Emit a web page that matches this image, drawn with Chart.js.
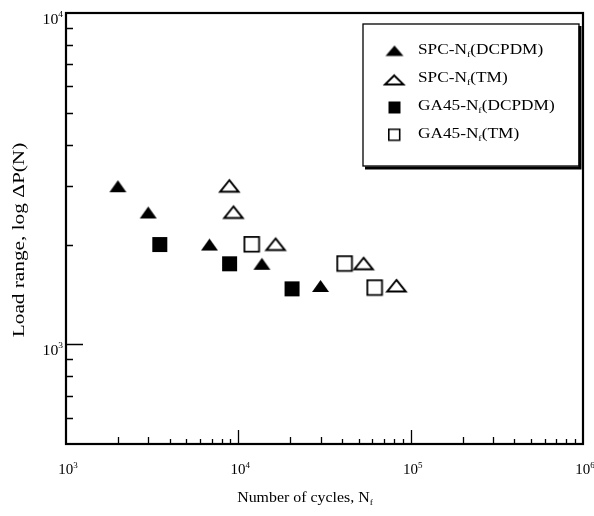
<!DOCTYPE html>
<html><head><meta charset="utf-8">
<script src="https://cdn.jsdelivr.net/npm/chart.js@4"></script>
<style>html,body{margin:0;padding:0;background:#fff}</style>
</head><body>
<canvas id="c" width="594" height="516"></canvas>
<script>
// ---- data ----
const seriesLabels = ['SPC-N_{f}(DCPDM)', 'SPC-N_{f}(TM)', 'GA45-N_{f}(DCPDM)', 'GA45-N_{f}(TM)'];
const spcDcpdmCycles = [2000, 3000, 6800, 13700, 30000];
const spcDcpdmLoad   = [3000, 2500, 2000, 1750, 1500];
const spcTmCycles    = [8900, 9400, 16500, 53500, 83000];
const spcTmLoad      = [3000, 2500, 2000, 1750, 1500];
const ga45DcpdmCycles = [3500, 8900, 20500];
const ga45DcpdmLoad   = [2000, 1750, 1470];
const ga45TmCycles    = [12000, 41500, 62000];
const ga45TmLoad      = [2000, 1750, 1480];
const xTickValues = [1e3, 1e4, 1e5, 1e6];
const xTickLabels = ['10^{3}', '10^{4}', '10^{5}', '10^{6}'];
const yTickValues = [1e3, 1e4];
const yTickLabels = ['10^{3}', '10^{4}'];
const xTitle = 'Number of cycles, N_{f}';
const yTitle = 'Load range, log \u0394P(N)';

const FONT = '"Liberation Serif", "Times New Roman", serif';

function marker(shape, filled, w, h, lw) {
  const pad = 2;
  const c = document.createElement('canvas');
  c.width = Math.ceil(w + pad * 2); c.height = Math.ceil(h + pad * 2);
  const g = c.getContext('2d');
  g.translate(pad, pad);
  g.beginPath();
  const i = filled ? 0 : lw / 2;
  if (shape === 'tri') {
    g.moveTo(w / 2, i); g.lineTo(w - i, h - i); g.lineTo(i, h - i); g.closePath();
  } else {
    g.rect(i, i, w - 2 * i, h - 2 * i);
  }
  if (filled) { g.fillStyle = '#000'; g.fill(); }
  else { g.fillStyle = '#fff'; g.fill(); g.lineWidth = lw; g.strokeStyle = '#000'; g.lineJoin = 'miter'; g.stroke(); }
  return c;
}
const plotMarkers = [marker('tri', true, 17, 12), marker('tri', false, 20.5, 13.5, 1.9),
                     marker('sq', true, 15, 15), marker('sq', false, 16.5, 16.5, 1.8)];
const legendMarkers = [marker('tri', true, 18, 10.5), marker('tri', false, 20.5, 11, 1.9),
                       marker('sq', true, 12, 12), marker('sq', false, 12.5, 12.5, 1.6)];

function parseRich(str) {
  const parts = []; const re = /_\{([^}]*)\}|\^\{([^}]*)\}/g; let last = 0, m;
  while ((m = re.exec(str))) {
    if (m.index > last) parts.push({ t: str.slice(last, m.index), k: 'n' });
    parts.push(m[1] !== undefined ? { t: m[1], k: 'sub' } : { t: m[2], k: 'sup' });
    last = re.lastIndex;
  }
  if (last < str.length) parts.push({ t: str.slice(last), k: 'n' });
  return parts;
}
function drawRich(ctx, str, x, y, size, align, stretch, rot) {
  const parts = parseRich(str);
  const fontFor = k => (k === 'n' ? size : Math.round(size * 0.62)) + 'px ' + FONT;
  let w = 0;
  parts.forEach(p => { ctx.font = fontFor(p.k); p.w = ctx.measureText(p.t).width; w += p.w; });
  ctx.save();
  ctx.translate(x, y);
  if (rot) ctx.rotate(rot);
  ctx.scale(stretch || 1, 1);
  let cx = align === 'center' ? -w / 2 : align === 'right' ? -w : 0;
  ctx.fillStyle = '#000'; ctx.textBaseline = 'alphabetic'; ctx.textAlign = 'left';
  parts.forEach(p => {
    ctx.font = fontFor(p.k);
    const dy = p.k === 'sub' ? size * 0.18 : p.k === 'sup' ? -size * 0.42 : 0;
    ctx.fillText(p.t, cx, dy);
    cx += p.w;
  });
  ctx.restore();
}

const framePlugin = {
  id: 'frame',
  beforeDatasetsDraw(chart) {
    const { ctx, chartArea: a, scales: { x, y } } = chart;
    ctx.save();
    ctx.strokeStyle = '#000';
    ctx.lineWidth = 1.3;
    ctx.beginPath();
    // x ticks (inward)
    for (let e = 3; e < 6; e++) {
      for (let k = 1; k <= 9; k++) {
        const v = k * Math.pow(10, e);
        const px = Math.round(x.getPixelForValue(v)) + 0.5;
        const len = k === 1 ? 14 : (k <= 3 ? 7 : 5);
        if (px <= a.left + 1) continue;
        ctx.moveTo(px, a.bottom); ctx.lineTo(px, a.bottom - len);
      }
    }
    // y ticks (inward)
    for (let e = 2; e < 4; e++) {
      for (let k = 1; k <= 9; k++) {
        const v = k * Math.pow(10, e);
        if (v <= 500 || v >= 1e4) continue;
        const py = Math.round(y.getPixelForValue(v)) + 0.5;
        const len = k === 1 ? 17 : 7;
        ctx.moveTo(a.left, py); ctx.lineTo(a.left + len, py);
      }
    }
    ctx.stroke();
    ctx.lineWidth = 2.2;
    ctx.strokeRect(a.left, a.top, a.right - a.left, a.bottom - a.top);
    ctx.restore();
  },
  afterDraw(chart) {
    const { ctx, chartArea: a, scales: { x, y } } = chart;
    // tick labels
    xTickValues.forEach((v, i) => drawRich(ctx, xTickLabels[i], x.getPixelForValue(v) + 2, 474, 15, 'center', 1));
    yTickValues.forEach((v, i) => drawRich(ctx, yTickLabels[i], 63, y.getPixelForValue(v) + 10.5, 15, 'right', 1.05));
    // axis titles
    drawRich(ctx, xTitle, 305, 502, 15, 'center', 1.06);
    drawRich(ctx, yTitle, 24, 240, 16, 'center', 1.33, -Math.PI / 2);
    // legend box
    const L = 363, T = 24, R = 579, B = 166;
    ctx.save();
    ctx.fillStyle = '#fff';
    ctx.fillRect(L, T, R - L, B - T);
    ctx.strokeStyle = '#000';
    ctx.lineWidth = 1.3;
    ctx.strokeRect(L, T, R - L, B - T);
    ctx.lineWidth = 3;
    ctx.beginPath();
    ctx.moveTo(R + 1, T + 2); ctx.lineTo(R + 1, B + 2); ctx.lineTo(L + 2, B + 2);
    ctx.stroke();
    ctx.restore();
    const rows = [51, 80, 107.5, 135];
    const textBase = [54, 82, 110, 138];
    chart.data.datasets.forEach((ds, i) => {
      const m = legendMarkers[i];
      ctx.drawImage(m, 394.5 - m.width / 2, rows[i] - m.height / 2);
      drawRich(ctx, ds.label, 418, textBase[i], 15, 'left', 1.15);
    });
  }
};

const mk = (xs, ys) => xs.map((v, i) => ({ x: v, y: ys[i] }));
new Chart(document.getElementById('c'), {
  type: 'scatter',
  data: {
    datasets: [
      { label: seriesLabels[0], data: mk(spcDcpdmCycles, spcDcpdmLoad), pointStyle: plotMarkers[0] },
      { label: seriesLabels[1], data: mk(spcTmCycles, spcTmLoad), pointStyle: plotMarkers[1] },
      { label: seriesLabels[2], data: mk(ga45DcpdmCycles, ga45DcpdmLoad), pointStyle: plotMarkers[2] },
      { label: seriesLabels[3], data: mk(ga45TmCycles, ga45TmLoad), pointStyle: plotMarkers[3] }
    ]
  },
  options: {
    responsive: false,
    animation: false,
    events: [],
    elements: { point: { radius: 8 } },
    layout: { padding: { left: 66, top: 13, right: 11, bottom: 72 } },
    plugins: { legend: { display: false }, tooltip: { enabled: false }, title: { display: false } },
    scales: {
      x: { type: 'logarithmic', min: 1e3, max: 1e6, display: false },
      y: { type: 'logarithmic', min: 500, max: 1e4, display: false }
    }
  },
  plugins: [framePlugin]
});
</script>
</body></html>
